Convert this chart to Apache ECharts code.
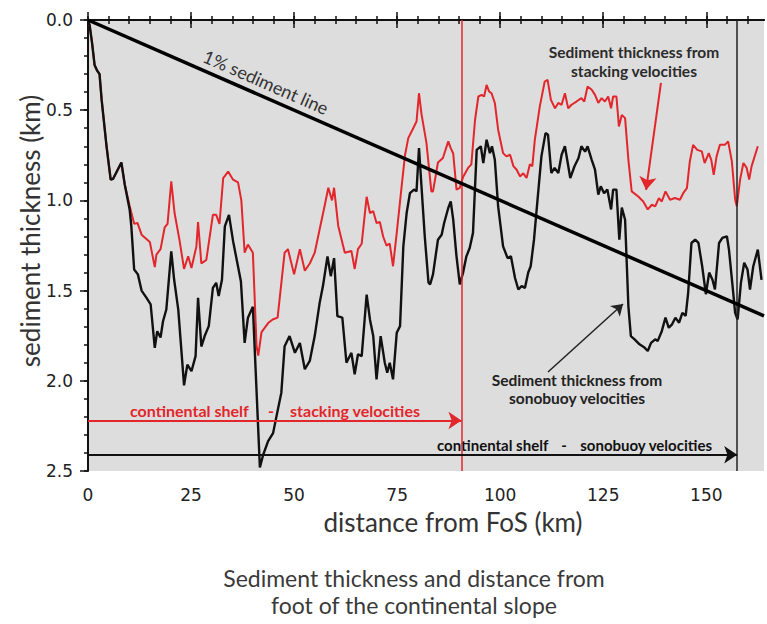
<!DOCTYPE html>
<html><head><meta charset="utf-8">
<script src="https://cdn.jsdelivr.net/npm/echarts@6/dist/echarts.min.js"></script>
<style>html,body{margin:0;padding:0;background:#fff}#c{width:767px;height:624px}</style>
</head><body><div id="c"></div>
<script>
// Sediment thickness from stacking velocities (red)
const stackDist = [0,0.4,1.0,1.6,2.2,2.8,3.3,4.5,5.5,6.1,8.1,8.9,10.1,11.2,12.0,13.0,15.0,16.2,16.6,17.6,18.6,19.3,20.2,21.0,22.2,23.3,24.3,25.1,26.3,26.7,27.5,28.7,30.3,31.1,31.9,32.8,34.0,35.2,36.4,37.2,38.0,38.8,40.0,40.9,41.3,42.1,43.7,44.8,46.0,47.7,48.5,50.0,51.4,52.6,53.8,55.0,56.2,57.5,58.3,59.2,59.7,60.7,62.3,63.9,64.7,65.5,66.4,67.6,68.4,69.2,70.0,70.8,71.6,72.4,73.2,74.0,74.9,76.1,76.9,77.7,78.9,79.7,80.3,80.9,82.1,83.3,83.7,84.9,86.1,87.4,88.0,88.6,89.4,90.2,91.0,92.2,93.0,93.9,94.7,95.5,96.1,96.7,97.3,97.9,98.7,99.5,100.7,101.5,102.4,103.2,104.0,104.8,105.6,106.4,107.2,107.8,108.4,109.6,110.8,111.5,112.3,113.3,114.1,114.9,115.7,116.5,117.3,118.5,119.7,120.4,121.2,122.2,123.0,123.8,124.6,125.4,126.2,126.9,127.4,128.2,128.8,129.5,130.3,131.1,131.9,133.5,134.7,135.8,136.8,137.6,138.5,139.2,140.1,141.2,142.4,143.6,144.4,145.3,146.0,146.8,147.8,148.9,149.6,150.6,151.2,151.8,152.5,153.3,154.5,155.3,156.2,157.0,157.4,158.2,159.0,159.8,160.4,161.0,162.5];
const stackThick = [0,0.03,0.13,0.25,0.28,0.30,0.44,0.70,0.885,0.88,0.79,0.91,1.03,1.13,1.125,1.19,1.23,1.37,1.30,1.27,1.15,1.13,0.895,1.07,1.22,1.38,1.31,1.375,1.255,1.12,1.35,1.33,1.08,1.08,1.13,0.876,0.84,0.885,0.90,1.0,1.29,1.245,1.29,1.81,1.86,1.73,1.68,1.66,1.65,1.29,1.27,1.41,1.27,1.39,1.35,1.29,1.16,1.02,0.93,1.0,0.93,1.14,1.29,1.28,1.38,1.27,1.24,0.98,1.07,1.06,1.125,1.12,1.2,1.25,1.24,1.365,1.18,0.92,0.75,0.655,0.6,0.563,0.406,0.52,0.68,0.95,0.95,0.79,0.765,0.673,0.71,0.74,0.94,0.93,0.87,0.82,0.80,0.553,0.424,0.415,0.424,0.36,0.396,0.406,0.46,0.608,0.738,0.756,0.747,0.81,0.83,0.867,0.85,0.876,0.80,0.81,0.664,0.48,0.341,0.332,0.443,0.489,0.46,0.47,0.406,0.49,0.47,0.452,0.433,0.452,0.369,0.387,0.415,0.46,0.433,0.452,0.424,0.489,0.424,0.424,0.59,0.526,0.544,0.775,0.95,0.978,1.006,1.05,1.024,1.033,0.987,1.006,0.95,0.996,0.987,0.996,0.96,0.932,0.784,0.692,0.72,0.728,0.793,0.738,0.775,0.858,0.756,0.692,0.692,0.673,0.784,0.996,1.033,0.885,0.793,0.82,0.885,0.81,0.70];
// Sediment thickness from sonobuoy velocities (black)
const sonoDist = [0,0.4,1.0,1.6,2.2,2.8,3.3,4.5,5.5,6.1,8.1,8.9,10.1,10.5,11.2,12.1,13.0,14.2,15.2,16.2,16.8,17.6,18.2,19.0,20.2,20.9,21.9,22.7,23.3,24.1,25.1,26.1,26.7,27.5,28.3,29.3,30.3,31.1,31.7,32.5,33.2,34.2,35.2,36.3,37.1,38.0,38.8,40.0,41.7,42.5,43.7,44.9,45.7,46.9,47.7,48.9,50.2,51.4,52.6,53.8,55.0,56.2,57.0,58.1,58.9,59.7,60.5,61.7,62.7,63.9,64.7,65.5,66.4,67.6,68.4,69.2,70.0,71.0,72.0,72.6,73.2,74.0,74.9,75.7,76.5,77.3,78.1,79.1,79.7,80.3,80.9,81.7,82.6,83.0,83.7,84.9,85.8,86.4,87.4,88.0,88.6,89.4,90.2,91.0,91.8,92.6,93.4,94.3,95.3,95.9,96.7,97.5,98.0,98.7,99.5,100.7,101.8,102.6,103.6,104.4,105.2,106.0,106.8,107.4,108.2,109.2,110.0,111.0,111.6,112.4,113.2,114.1,114.9,115.7,117.0,118.0,119.0,119.7,120.6,121.2,122.2,123.0,123.8,124.4,125.2,126.0,126.9,127.4,128.2,128.9,129.5,130.3,131.1,131.7,132.6,133.8,135.0,135.8,136.6,137.6,138.2,139.2,140.1,140.9,141.7,142.5,143.4,144.2,145.0,145.6,146.4,147.3,148.1,149.0,149.9,150.7,151.5,152.1,153.1,153.9,155.0,155.5,156.3,157.0,157.6,158.4,159.2,160.0,160.6,161.4,162.5,163.4];
const sonoThick = [0,0.03,0.13,0.25,0.28,0.30,0.44,0.70,0.885,0.88,0.79,0.91,1.05,1.14,1.383,1.41,1.5,1.54,1.577,1.817,1.725,1.76,1.67,1.605,1.282,1.44,1.605,1.845,2.025,1.91,1.946,1.863,1.54,1.81,1.752,1.697,1.485,1.457,1.53,1.44,1.144,1.08,1.226,1.355,1.45,1.79,1.65,1.59,2.48,2.41,2.334,2.29,2.2,2.066,1.808,1.752,1.845,1.79,1.936,1.89,1.752,1.568,1.475,1.31,1.42,1.32,1.642,1.65,1.9,1.845,1.964,1.853,1.863,1.522,1.66,1.752,1.992,1.752,1.9,1.955,1.9,1.992,1.734,1.697,1.255,1.07,0.96,0.94,0.95,0.71,0.92,1.2,1.455,1.466,1.41,1.218,1.19,1.125,1.042,1.005,1.107,1.31,1.466,1.40,1.31,1.264,1.18,0.72,0.70,0.793,0.664,0.738,0.70,0.775,1.033,1.255,1.32,1.31,1.43,1.494,1.475,1.485,1.40,1.365,1.218,0.96,0.756,0.627,0.636,0.848,0.82,0.848,0.747,0.70,0.876,0.812,0.765,0.70,0.73,0.70,0.775,0.83,0.968,0.922,0.96,0.94,1.05,0.94,0.94,1.218,1.04,1.107,1.587,1.752,1.77,1.798,1.816,1.835,1.79,1.77,1.78,1.725,1.65,1.706,1.687,1.65,1.678,1.623,1.64,1.512,1.236,1.218,1.236,1.365,1.52,1.40,1.44,1.494,1.236,1.208,1.199,1.273,1.457,1.623,1.66,1.457,1.346,1.383,1.494,1.365,1.273,1.44];
// 1% sediment line
const lineDist = [0, 164];
const lineThick = [0, 1.64];
// continental shelf limits (km from FoS)
const shelfStacking = 90.6;
const shelfSonobuoy = 157.5;
// axis ticks
const xMajor = [0,25,50,75,100,125,150];
const xMinor = [0,5,10,15,20,25,30,35,40,45,50,55,60,65,70,75,80,85,90,95,100,105,110,115,120,125,130,135,140,145,150,155,160];
const yMajor = [0,0.5,1,1.5,2,2.5];
const yMinor = [0,0.1,0.2,0.3,0.4,0.5,0.6,0.7,0.8,0.9,1,1.1,1.2,1.3,1.4,1.5,1.6,1.7,1.8,1.9,2,2.1,2.2,2.3,2.4,2.5];

const RED = '#e2262b', BLK = '#111111';
const zip = (a, b) => a.map((v, i) => [v, b[i]]);

const chart = echarts.init(document.getElementById('c'), null, {renderer: 'svg'});
const tickStyle = {color: BLK, width: 1.5};
const xb = {type: 'value', min: 0, max: 164, splitLine: {show: false}};
const yb = {type: 'value', min: 0, max: 2.5, inverse: true, splitLine: {show: false}};
const labelFont = {fontFamily: 'DejaVu Sans', fontSize: 17, color: '#222'};

chart.setOption({
  animation: false,
  grid: {left: 88, top: 20, width: 676, height: 451, show: true, backgroundColor: '#dddddd', borderWidth: 0},
  xAxis: [
    Object.assign({}, xb, {position: 'bottom', axisLine: {show: true, lineStyle: {color: BLK, width: 2}},
      axisTick: {show: true, customValues: xMajor, length: 8, lineStyle: tickStyle},
      axisLabel: Object.assign({customValues: xMajor, margin: 15}, labelFont)}),
    Object.assign({}, xb, {position: 'bottom', axisLine: {show: false},
      axisTick: {show: true, customValues: xMinor, length: 4, lineStyle: tickStyle}, axisLabel: {show: false}}),
    Object.assign({}, xb, {position: 'top', axisLine: {show: true, lineStyle: {color: BLK, width: 2}},
      axisTick: {show: true, customValues: xMajor, length: 8, lineStyle: tickStyle}, axisLabel: {show: false}}),
    Object.assign({}, xb, {position: 'top', axisLine: {show: false},
      axisTick: {show: true, customValues: xMinor, length: 4, lineStyle: tickStyle}, axisLabel: {show: false}})
  ],
  yAxis: [
    Object.assign({}, yb, {position: 'left', axisLine: {show: true, lineStyle: {color: BLK, width: 2}},
      axisTick: {show: true, customValues: yMajor, length: 8, lineStyle: tickStyle},
      axisLabel: Object.assign({customValues: yMajor, margin: 15, formatter: v => v.toFixed(1)}, labelFont)}),
    Object.assign({}, yb, {position: 'left', axisLine: {show: false},
      axisTick: {show: true, customValues: yMinor, length: 4, lineStyle: tickStyle}, axisLabel: {show: false}})
  ],
  series: [
    {
      name: 'stacking', type: 'line', data: zip(stackDist, stackThick), showSymbol: false, silent: true,
      lineStyle: {color: RED, width: 2}, z: 3,
      markLine: {
        silent: true, symbol: ['none', 'none'], label: {show: false}, animation: false,
        data: [
          [{xAxis: shelfStacking, yAxis: 0, lineStyle: {color: RED, width: 1.5, type: 'solid'}}, {xAxis: shelfStacking, yAxis: 2.5}],
          [{coord: [0, 2.22], lineStyle: {color: RED, width: 2, type: 'solid'}}, {coord: [shelfStacking, 2.22], symbol: 'arrow', symbolSize: 13}],
          [{coord: [139.0, 0.349], lineStyle: {color: RED, width: 2, type: 'solid'}}, {coord: [135.4, 0.942], symbol: 'arrow', symbolSize: 13}]
        ]
      }
    },
    {
      name: 'sonobuoy', type: 'line', data: zip(sonoDist, sonoThick), showSymbol: false, silent: true,
      lineStyle: {color: BLK, width: 2.4}, z: 4,
      markLine: {
        silent: true, symbol: ['none', 'none'], label: {show: false}, animation: false,
        data: [
          [{xAxis: shelfSonobuoy, yAxis: 0, lineStyle: {color: '#222', width: 1.5, type: 'solid'}}, {xAxis: shelfSonobuoy, yAxis: 2.5}],
          [{coord: [0, 2.41], lineStyle: {color: BLK, width: 2, type: 'solid'}}, {coord: [shelfSonobuoy, 2.41], symbol: 'arrow', symbolSize: 13}],
          [{coord: [111.6, 1.951], lineStyle: {color: '#222', width: 1.5, type: 'solid'}}, {coord: [129.8, 1.574], symbol: 'arrow', symbolSize: 11}]
        ]
      }
    },
    {
      name: '1% line', type: 'line', data: zip(lineDist, lineThick), showSymbol: false, silent: true,
      lineStyle: {color: '#000', width: 3.5}, z: 5
    }
  ],
  graphic: [
    {type: 'text', x: 30, y: 231, rotation: Math.PI / 2, style: {text: 'sediment thickness (km)', font: '26px Lato', fill: '#333', align: 'center', verticalAlign: 'middle'}},
    {type: 'text', x: 453, y: 522, style: {text: 'distance from FoS (km)', font: '26px Lato', fill: '#333', align: 'center', verticalAlign: 'middle'}},
    {type: 'text', x: 414, y: 578, style: {text: 'Sediment thickness and distance from', font: '23px Lato', fill: '#3a3a3a', align: 'center', verticalAlign: 'middle'}},
    {type: 'text', x: 414, y: 605, style: {text: 'foot of the continental slope', font: '23px Lato', fill: '#3a3a3a', align: 'center', verticalAlign: 'middle'}},
    {type: 'text', x: 266, y: 82, rotation: -0.4128, style: {text: '1% sediment line', font: '18px Lato', fill: '#333', align: 'center', verticalAlign: 'middle'}},
    {type: 'text', x: 634, y: 52, style: {text: 'Sediment thickness from', font: 'bold 15.5px Lato', fill: '#2b2b2b', align: 'center', verticalAlign: 'middle'}},
    {type: 'text', x: 634, y: 71, style: {text: 'stacking velocities', font: 'bold 15.5px Lato', fill: '#2b2b2b', align: 'center', verticalAlign: 'middle'}},
    {type: 'text', x: 577, y: 380, style: {text: 'Sediment thickness from', font: 'bold 15.5px Lato', fill: '#222', align: 'center', verticalAlign: 'middle'}},
    {type: 'text', x: 577, y: 398, style: {text: 'sonobuoy velocities', font: 'bold 15.5px Lato', fill: '#222', align: 'center', verticalAlign: 'middle'}},
    {type: 'text', x: 130, y: 410, style: {text: 'continental shelf', font: 'bold 16px Lato', fill: RED, align: 'left', verticalAlign: 'middle'}},
    {type: 'text', x: 271, y: 410, style: {text: '-', font: 'bold 16px Lato', fill: RED, align: 'center', verticalAlign: 'middle'}},
    {type: 'text', x: 420, y: 410, style: {text: 'stacking velocities', font: 'bold 16px Lato', fill: RED, align: 'right', verticalAlign: 'middle'}},
    {type: 'text', x: 437, y: 445, style: {text: 'continental shelf', font: 'bold 15px Lato', fill: BLK, align: 'left', verticalAlign: 'middle'}},
    {type: 'text', x: 564, y: 445, style: {text: '-', font: 'bold 15px Lato', fill: BLK, align: 'center', verticalAlign: 'middle'}},
    {type: 'text', x: 712, y: 445, style: {text: 'sonobuoy velocities', font: 'bold 15px Lato', fill: BLK, align: 'right', verticalAlign: 'middle'}}
  ]
});
</script>
</body></html>
